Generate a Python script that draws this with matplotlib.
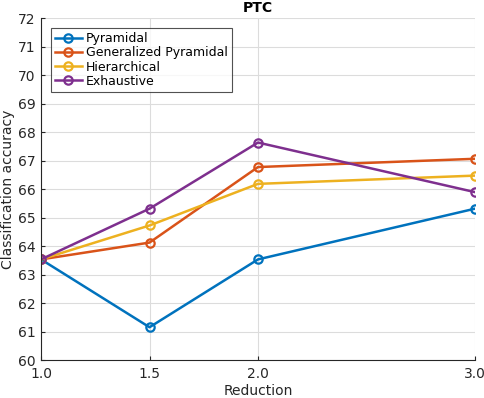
import matplotlib
matplotlib.use('Agg')
import matplotlib.pyplot as plt

# data
reduction = [1.0, 1.5, 2.0, 3.0]
xtick_labels = ['1.0', '1.5', '2.0', '3.0']
pyramidal = [63.53, 61.15, 63.53, 65.31]
generalized = [63.53, 64.12, 66.77, 67.06]
hierarchical = [63.53, 64.72, 66.18, 66.47]
exhaustive = [63.53, 65.31, 67.63, 65.89]

series = [
    ('Pyramidal', pyramidal, '#0072BD'),
    ('Generalized Pyramidal', generalized, '#D95319'),
    ('Hierarchical', hierarchical, '#EDB120'),
    ('Exhaustive', exhaustive, '#7E2F8E'),
]

fig = plt.figure(figsize=(4.85, 3.98), dpi=100)
ax = fig.add_axes([41 / 485, 38 / 398, 434 / 485, 342 / 398])

for name, vals, col in series:
    ax.plot(reduction, vals, '-o', color=col, lw=1.8, ms=6, mew=1.6,
            mfc='none', label=name)

ax.set_xlim(1.0, 3.0)
ax.set_ylim(60, 72)
ax.set_xticks(reduction)
ax.set_xticklabels(xtick_labels)
ax.set_yticks(range(60, 73))
ax.grid(True, color='#dcdcdc', lw=0.8)
ax.set_axisbelow(True)
for s in ['top', 'right']:
    ax.spines[s].set_visible(False)
for s in ['left', 'bottom']:
    ax.spines[s].set_color('#262626')
ax.tick_params(direction='in', length=3, labelsize=10, colors='#262626')
ax.tick_params(axis='x', pad=5)
ax.tick_params(axis='y', pad=4)

ax.set_xlabel('Reduction', fontsize=10, color='#262626', labelpad=2)
ax.set_ylabel('Classification accuracy', fontsize=10, color='#262626',
              labelpad=2)
ax.set_title('PTC', fontsize=10, fontweight='bold', pad=4)

leg = ax.legend(loc='upper left', bbox_to_anchor=(0.023, 0.97), fontsize=9,
                frameon=True, fancybox=False, edgecolor='#262626',
                borderpad=0.3, labelspacing=0.1, handlelength=2.2,
                handletextpad=0.3, borderaxespad=0)
leg.get_frame().set_linewidth(0.8)

fig.savefig('out.png', dpi=100)
